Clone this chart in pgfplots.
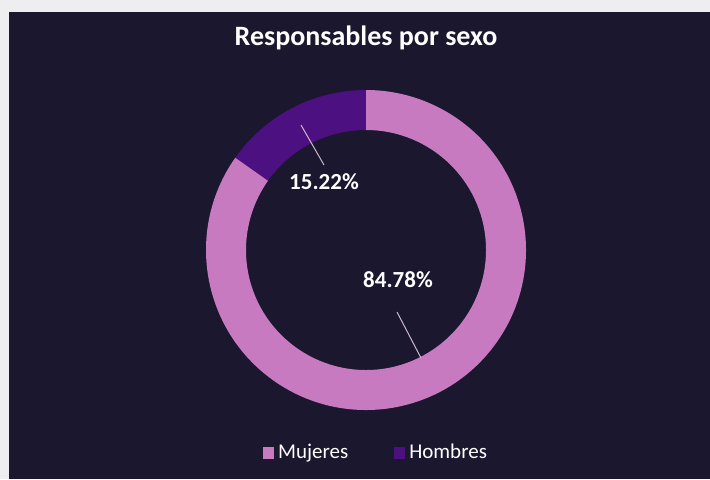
\documentclass[border=0pt]{standalone}
\usepackage{pgfplots}
\pgfplotsset{compat=1.18}
\usepackage{pgfplotstable}
\usepackage{fontspec}
\setmainfont{Carlito}

\definecolor{fondo}{RGB}{26,23,46}
\definecolor{borde}{RGB}{238,238,240}
\definecolor{mujeres}{RGB}{200,122,192}
\definecolor{hombres}{RGB}{76,16,128}
\definecolor{guia}{RGB}{205,185,205}

\pgfplotstableread{
sexo valor
Mujeres 84.78
Hombres 15.22
}\datos

\begin{document}
\begin{tikzpicture}
\pgfplotstablegetelem{0}{valor}\of\datos \let\vm\pgfplotsretval
\pgfplotstablegetelem{1}{valor}\of\datos \let\vh\pgfplotsretval
\pgfmathsetmacro\ah{90+3.6*\vh}
\begin{axis}[
  x=0.5pt, y=0.5pt,
  xmin=0, xmax=710, ymin=0, ymax=479,
  hide axis, clip=false,
  legend columns=2,
  legend style={at={(axis cs:377,26)}, anchor=center, draw=none, fill=none,
    text=white, font=\fontsize{10.5}{12}\selectfont,
    /tikz/every even column/.append style={column sep=21pt}},
  legend image code/.code={\fill[#1] (0,-0.09cm) rectangle (0.18cm,0.09cm);},
]
% fondo y bordes de la foto
\fill[fondo] (axis cs:0,0) rectangle (axis cs:710,479);
\fill[borde] (axis cs:0,467) rectangle (axis cs:710,479);
\fill[borde] (axis cs:0,0) rectangle (axis cs:9,479);

% anillo: Hombres desde arriba en sentido antihorario, Mujeres el resto
\fill[hombres] (axis cs:366,229) ++(90:80pt) arc[start angle=90, end angle=\ah, radius=80pt]
  -- ++(\ah+180:20pt) arc[start angle=\ah, end angle=90, radius=60pt] -- cycle;
\fill[mujeres] (axis cs:366,229) ++(\ah:80pt) arc[start angle=\ah, end angle=450, radius=80pt]
  -- ++(270:20pt) arc[start angle=450, end angle=\ah, radius=60pt] -- cycle;

% lineas guia y etiquetas
\draw[guia, line width=0.5pt] (axis cs:301,354) -- (axis cs:324,314);
\draw[guia, line width=0.5pt] (axis cs:397,167) -- (axis cs:421,121);
\node[text=white, font=\bfseries\fontsize{11.5}{13}\selectfont] at (axis cs:324,297) {\vh\%};
\node[text=white, font=\bfseries\fontsize{11.5}{13}\selectfont] at (axis cs:398,199) {\vm\%};

\node[text=white, font=\bfseries\fontsize{14}{16}\selectfont] at (axis cs:366,441) {Responsables por sexo};

\addlegendimage{mujeres}
\addlegendentry{Mujeres}
\addlegendimage{hombres}
\addlegendentry{Hombres}
\end{axis}
\end{tikzpicture}
\end{document}
